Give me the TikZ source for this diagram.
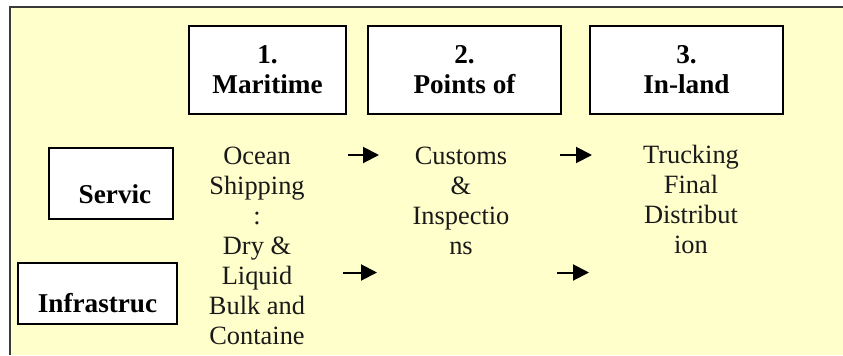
\documentclass[tikz,border=0pt]{standalone}
\usepackage{fontspec}
\setmainfont{Liberation Serif}
\usepackage{xcolor}
\usetikzlibrary{arrows.meta}
\definecolor{giallino}{HTML}{FFFFCC}
\definecolor{bordo}{HTML}{3A3A3A}

\begin{document}
\begin{tikzpicture}[x = 0.5pt, y = -0.5pt,
    scatola/.style = {draw, line width = 1pt, fill = white, inner sep = 0pt, align = center, font = \bfseries\fontsize{13.6}{15}\selectfont},
    fase/.style = {scatola, minimum width = 96.5pt, text height = 33.5pt, text depth = 10.5pt},
    colonna/.style = {align = center, anchor = base, text = black!90, font = \fontsize{13.2}{15}\selectfont},
    freccia/.style = {line width = 1pt, -{Triangle[length = 8pt, width = 8pt]}}]
    % Parametri
    \pgfmathsetmacro{\yfasi}{70}
    \pgfmathsetmacro{\rigaA}{155}
    \pgfmathsetmacro{\rigaB}{272.5}

    % Sfondo
    \useasboundingbox (0,0) rectangle (843,355);
    \fill[giallino] (10,7) rectangle (843,355);
    \draw[bordo, line width = 1.2pt] (10,355) -- (10,7) -- (843,7);

    % Fasi
    \node[fase, minimum width = 78.5pt] (marittima) at (267.5,\yfasi) {1.\\Maritime};
    \node[fase] (punti) at (464.5,\yfasi) {2.\\Points of};
    \node[fase] (entroterra) at (686.5,\yfasi) {3.\\In-land};

    % Righe
    \node[scatola, minimum width = 62pt, text height = 27.5pt, text depth = 8pt] (servizi) at (111,183.5) {\hspace*{4pt}Servic};
    \node[scatola, minimum width = 79.5pt, text height = 24.5pt, text depth = 6pt] (infrastrutture) at (97.5,293.5) {Infrastruc};

    % Colonne di testo (ancorate all'ultima riga)
    \node[colonna] (oceano) at (257,344) {Ocean\\Shipping\\:\\Dry \&\\Liquid\\Bulk and\\Containe};
    \node[colonna] (dogana) at (461,254) {Customs\\\&\\Inspectio\\ns};
    \node[colonna] (camion) at (691,253) {Trucking\\Final\\Distribut\\ion};

    % Frecce
    \coordinate (fAa) at (348,\rigaA);
    \coordinate (fAb) at (379,\rigaA);
    \coordinate (fBa) at (560,\rigaA);
    \coordinate (fBb) at (592,\rigaA);
    \coordinate (fCa) at (343,\rigaB);
    \coordinate (fCb) at (377,\rigaB);
    \coordinate (fDa) at (557,\rigaB);
    \coordinate (fDb) at (589,\rigaB);
    \draw[freccia] (fAa) -- (fAb);
    \draw[freccia] (fBa) -- (fBb);
    \draw[freccia] (fCa) -- (fCb);
    \draw[freccia] (fDa) -- (fDb);
\end{tikzpicture}
\end{document}
